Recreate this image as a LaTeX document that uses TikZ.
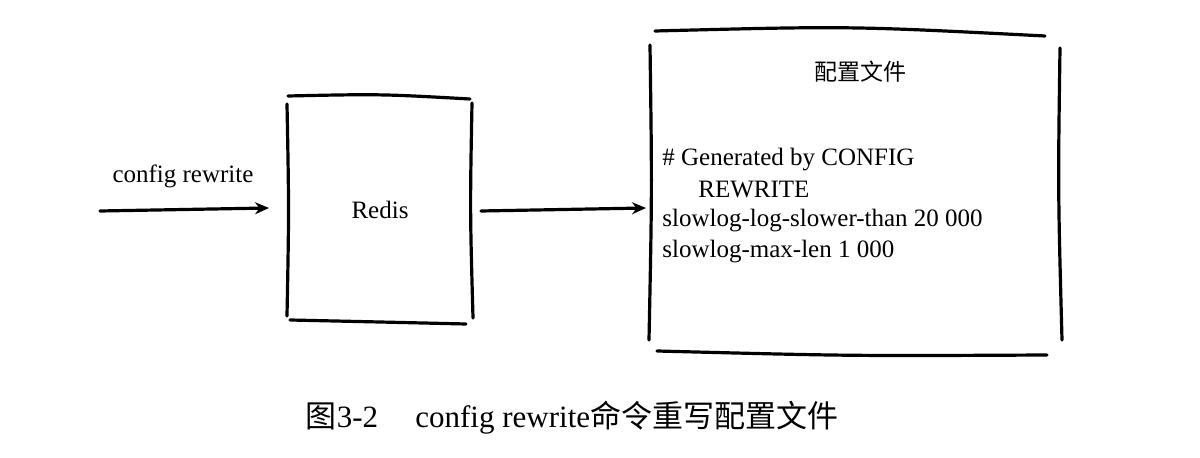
\documentclass[tikz,border=0pt]{standalone}
\usepackage{fontspec}
\setmainfont{Liberation Serif}
\newfontfamily\cjk{Noto Sans CJK SC}
\usetikzlibrary{arrows.meta}
\begin{document}
\begin{tikzpicture}[x=0.5pt,y=-0.5pt,
  sk/.style={line width=1.6pt,line cap=round},
  arr/.style={sk,-{Stealth[length=7pt,width=6pt]}},
  txt/.style={font=\fontsize{12.5}{14}\selectfont,inner sep=0pt}]
\useasboundingbox (0,0) rectangle (1200,458);
% Redis box
\draw[sk] (288,96) .. controls (380,94) .. (470,99);
\draw[sk] (290,320) .. controls (380,322) .. (466,324);
\draw[sk] (287,104) .. controls (289,210) .. (287,316);
\draw[sk] (472,103) .. controls (470,210) .. (473,318);
\node[txt] (redis) at (380,210) {Redis};
% Config file box
\draw[sk] (655,31) .. controls (850,26) .. (1045,36);
\draw[sk] (657,351) .. controls (850,356) .. (1047,355);
\draw[sk] (650,45) .. controls (652,190) .. (649,340);
\draw[sk] (1060,48) .. controls (1058,190) .. (1062,340);
\node[txt,font=\cjk\fontsize{11.5}{13}\selectfont] (title) at (860,72) {配置文件};
\node[txt,anchor=west] (l1) at (662,160) {\# Generated by CONFIG};
\node[txt,anchor=west] (l2) at (698,190) {REWRITE};
\node[txt,anchor=west] (l3) at (662,221) {slowlog-log-slower-than 20 000};
\node[txt,anchor=west] (l4) at (662,252) {slowlog-max-len 1 000};
% arrows
\coordinate (a0) at (100,211);
\coordinate (a1) at (269,208);
\coordinate (b0) at (481,211);
\coordinate (b1) at (646,208);
\draw[arr] (a0) -- (a1);
\draw[arr] (b0) -- (b1);
\node[txt] (cfg) at (183,176) {config rewrite};
% caption
\node[inner sep=0pt,font=\fontsize{15.5}{17}\selectfont] (cap) at (572,418)
  {{\cjk 图}3-2\hspace{1.2em}config rewrite{\cjk 命令重写配置文件}};
\end{tikzpicture}
\end{document}
